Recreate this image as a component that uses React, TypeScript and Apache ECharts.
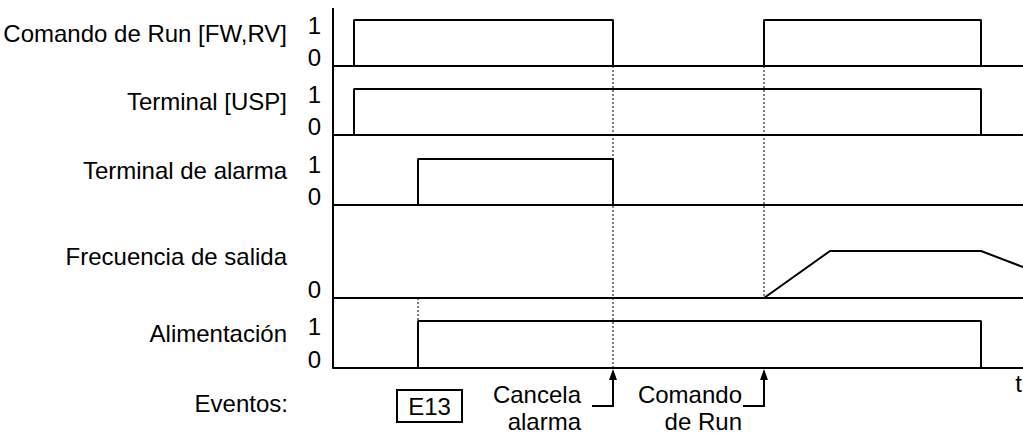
import React, { useEffect, useRef } from 'react';
import * as echarts from 'echarts';

// ---------- data ----------
const rowNames = ['Comando de Run [FW,RV]', 'Terminal [USP]', 'Terminal de alarma', 'Frecuencia de salida', 'Alimentación'];
const levelLabels = [['0', '1'], ['0', '1'], ['0', '1'], ['0'], ['0', '1']];
const TIME_MAX = 69;

const runCommand = [[0, 0], [2.1, 0], [2.1, 1], [28, 1], [28, 0], [43.1, 0], [43.1, 1], [64.8, 1], [64.8, 0], [69, 0]];
const uspTerminal = [[0, 0], [2.1, 0], [2.1, 1], [64.8, 1], [64.8, 0], [69, 0]];
const alarmTerminal = [[0, 0], [8.5, 0], [8.5, 1], [28, 1], [28, 0], [69, 0]];
const outputFrequency = [[0, 0], [43.1, 0], [49.7, 1], [64.8, 1], [69, 0.66]];
const powerSupply = [[0, 0], [8.5, 0], [8.5, 1], [64.8, 1], [64.8, 0], [69, 0]];
const seriesData = [runCommand, uspTerminal, alarmTerminal, outputFrequency, powerSupply];

const tripTime = 8.5;     // E13 trip
const resetTime = 28;     // alarm cancel
const restartTime = 43.1; // new run command
const eventsLabel = 'Eventos:';
const tripCode = 'E13';
const resetLabel = ['Cancela', 'alarma'];
const restartLabel = ['Comando', 'de Run'];
const timeLabel = 't';

// ---------- layout ----------
const W = 1023;
const H = 433;
const AXIS_X = 333;
const ROW_TOP = [20, 89, 159, 251, 321];
const ROW_BOTTOM = [66, 135, 205, 298, 368];
const NAME_DY = [13, 12, 11, 5, 12];
const FONT = '"Liberation Sans", Arial, Helvetica, sans-serif';
const FS = 24;

export default function App() {
  const ref = useRef<HTMLDivElement>(null);
  useEffect(() => {
    const chart = echarts.init(ref.current!, null, { renderer: 'svg' });
    const grids = ROW_TOP.map((t, i) => ({ left: AXIS_X, right: 0, top: t, height: ROW_BOTTOM[i] - t }));
    const xAxis = grids.map((_, i) => ({
      type: 'value', gridIndex: i, min: 0, max: TIME_MAX,
      axisLine: { show: true, onZero: false, lineStyle: { color: '#000', width: 2 } },
      axisTick: { show: false }, axisLabel: { show: false }, splitLine: { show: false },
    }));
    const yAxis = grids.map((_, i) => ({
      type: 'value', gridIndex: i, min: 0, max: 1, interval: 1,
      axisLine: { show: false }, axisTick: { show: false }, splitLine: { show: false },
      axisLabel: {
        show: true, margin: 12, color: '#000', fontFamily: FONT, fontSize: FS,
        formatter: (v: number) => {
          const s = String(v);
          if (!levelLabels[i].includes(s)) return '';
          return v === 0 ? `{z|${s}}` : `{o|${s}}`;
        },
        rich: {
          z: { fontFamily: FONT, fontSize: FS, color: '#000', padding: [0, 0, 18, 0] },
          o: { fontFamily: FONT, fontSize: FS, color: '#000', padding: [10, 0, 0, 0] },
        },
      },
    }));
    const series = seriesData.map((d, i) => ({
      type: 'line', xAxisIndex: i, yAxisIndex: i, data: d, symbol: 'none', clip: false,
      lineStyle: { color: '#000', width: 2 }, silent: true,
    }));
    chart.setOption({ animation: false, backgroundColor: '#fff', grid: grids, xAxis, yAxis, series });

    const px = (i: number, t: number, v: number) => chart.convertToPixel({ gridIndex: i }, [t, v]) as number[];
    const axisX = px(0, 0, 0)[0];
    const txt = (text: string, x: number, y: number, align = 'right') => ({
      type: 'text', x, y,
      style: { text, fill: '#000', font: `${FS}px ${FONT}`, align, verticalAlign: 'middle' },
    });
    const dotted = (t: number, y1: number, y2: number) => {
      const x = px(0, t, 0)[0];
      return { type: 'line', shape: { x1: x, y1, x2: x, y2 }, style: { stroke: '#000', lineWidth: 1, lineDash: [2, 2] } };
    };
    const base = (i: number) => px(i, 0, 0)[1];
    const high = (i: number) => px(i, 0, 1)[1];
    const bottomY = base(4);
    const arrow = (t: number, gap: number, lines: string[]) => {
      const x = px(4, t, 0)[0];
      const yh = bottomY + 38;
      return [
        { type: 'line', shape: { x1: x, y1: yh, x2: x, y2: bottomY + 8 }, style: { stroke: '#000', lineWidth: 2 } },
        { type: 'line', shape: { x1: x - 21, y1: yh, x2: x + 1, y2: yh }, style: { stroke: '#000', lineWidth: 2 } },
        { type: 'polygon', shape: { points: [[x, bottomY + 1], [x - 4, bottomY + 12], [x + 4, bottomY + 12]] }, style: { fill: '#000' } },
        txt(lines[0], x - gap, bottomY + 26),
        txt(lines[1], x - gap, bottomY + 53),
      ];
    };
    const tripX = px(4, tripTime, 0)[0];
    const graphic: any[] = [
      { type: 'line', shape: { x1: axisX, y1: ROW_TOP[0] - 12, x2: axisX, y2: bottomY }, style: { stroke: '#000', lineWidth: 2 } },
      ...rowNames.map((n, i) => txt(n, axisX - 46, high(i) + NAME_DY[i])),
      dotted(resetTime, base(0), base(4)),
      dotted(restartTime, base(0), base(3)),
      dotted(tripTime, base(3), high(4)),
      txt(eventsLabel, axisX - 45, bottomY + 35),
      { type: 'rect', shape: { x: tripX - 21, y: bottomY + 22, width: 65, height: 32 }, style: { fill: '#fff', stroke: '#000', lineWidth: 2 } },
      txt(tripCode, tripX + 11.5, bottomY + 38, 'center'),
      ...arrow(resetTime, 32, resetLabel),
      ...arrow(restartTime, 22, restartLabel),
      txt(timeLabel, W - 1, bottomY + 15),
    ];
    chart.setOption({ graphic });
    return () => chart.dispose();
  }, []);
  return <div ref={ref} style={{ position: 'fixed', left: 0, top: 0, width: W, height: H }} />;
}
